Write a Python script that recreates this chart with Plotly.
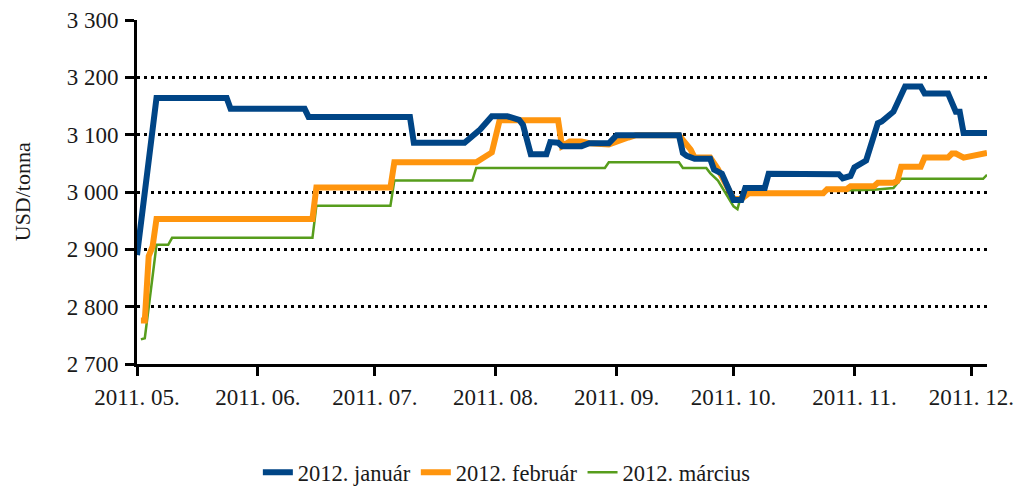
import plotly.graph_objects as go

# ---- data ----
jan_dates = ["2011-05-01", "2011-05-04", "2011-05-06", "2011-05-24", "2011-05-25", "2011-06-13", "2011-06-14",
             "2011-07-10", "2011-07-11", "2011-07-24", "2011-07-28", "2011-07-31", "2011-08-04", "2011-08-07",
             "2011-08-08", "2011-08-10", "2011-08-14", "2011-08-15", "2011-08-17", "2011-08-18", "2011-08-23",
             "2011-08-25", "2011-08-30", "2011-09-01", "2011-09-17", "2011-09-18", "2011-09-19", "2011-09-21",
             "2011-09-25", "2011-09-26", "2011-09-28", "2011-10-01", "2011-10-03", "2011-10-04", "2011-10-09",
             "2011-10-10", "2011-10-28", "2011-10-29", "2011-10-31", "2011-11-01", "2011-11-04", "2011-11-07",
             "2011-11-08", "2011-11-11", "2011-11-14", "2011-11-18", "2011-11-19", "2011-11-25", "2011-11-27",
             "2011-11-28", "2011-11-29", "2011-12-05"]
jan_values = [2890, 3053, 3164, 3164, 3145, 3145, 3131,
              3131, 3086, 3086, 3109, 3132, 3132, 3126,
              3117, 3066, 3066, 3087, 3086, 3080, 3080,
              3085, 3085, 3099, 3099, 3068, 3063, 3058,
              3058, 3039, 3032, 2986, 2986, 3007, 3007,
              3032, 3031, 3024, 3028, 3043, 3055, 3120,
              3123, 3140, 3184, 3184, 3172, 3172, 3140,
              3140, 3103, 3103]

feb_dates = ["2011-05-02", "2011-05-03", "2011-05-04", "2011-05-05", "2011-05-06", "2011-06-15", "2011-06-16",
             "2011-07-05", "2011-07-06", "2011-07-27", "2011-07-31", "2011-08-02", "2011-08-17", "2011-08-18",
             "2011-08-20", "2011-08-23", "2011-08-25", "2011-08-30", "2011-09-04", "2011-09-06", "2011-09-17",
             "2011-09-19", "2011-09-20", "2011-09-21", "2011-09-25", "2011-09-27", "2011-10-01", "2011-10-03",
             "2011-10-05", "2011-10-24", "2011-10-25", "2011-10-30", "2011-10-31", "2011-11-06", "2011-11-07",
             "2011-11-11", "2011-11-12", "2011-11-13", "2011-11-18", "2011-11-19", "2011-11-25", "2011-11-26",
             "2011-11-27", "2011-11-29", "2011-12-02", "2011-12-04", "2011-12-05"]
feb_values = [2776, 2776, 2888, 2905, 2953, 2953, 3008,
              3008, 3052, 3052, 3069, 3125, 3125, 3080,
              3088, 3088, 3085, 3083, 3095, 3099, 3099,
              3082, 3074, 3060, 3060, 3040, 2988, 2988,
              2998, 2998, 3005, 3005, 3010, 3010, 3016,
              3016, 3019, 3044, 3044, 3060, 3060, 3067,
              3067, 3060, 3064, 3065, 3068]

mar_dates = ["2011-05-02", "2011-05-03", "2011-05-05", "2011-05-06", "2011-05-09", "2011-05-10", "2011-06-15",
             "2011-06-16", "2011-07-05", "2011-07-06", "2011-07-26", "2011-07-27", "2011-08-29", "2011-08-30",
             "2011-09-17", "2011-09-18", "2011-09-24", "2011-09-25", "2011-09-27", "2011-10-01", "2011-10-02",
             "2011-10-03", "2011-10-05", "2011-10-24", "2011-10-25", "2011-11-06", "2011-11-11", "2011-11-13",
             "2011-12-04", "2011-12-05"]
mar_values = [2743, 2745, 2853, 2908, 2908, 2920, 2920,
              2976, 2976, 3020, 3020, 3042, 3042, 3052,
              3052, 3042, 3042, 3033, 3020, 2975, 2970,
              2995, 2998, 2998, 3002, 3004, 3007, 3023,
              3023, 3030]

series_names = ["2012. január", "2012. február", "2012. március"]
y_title = "USD/tonna"

FONT = "Liberation Serif"
TXT = "#1a1a1a"

fig = go.Figure()
# drawn green -> orange -> blue so blue is on top; legend reversed
fig.add_trace(go.Scatter(x=mar_dates, y=mar_values, mode="lines", name=series_names[2],
                         line=dict(color="#579d1c", width=2.5)))
fig.add_trace(go.Scatter(x=feb_dates, y=feb_values, mode="lines", name=series_names[1],
                         line=dict(color="#ff950e", width=6)))
fig.add_trace(go.Scatter(x=jan_dates, y=jan_values, mode="lines", name=series_names[0],
                         line=dict(color="#004586", width=6)))

# page body has an 8px margin; the figure is sized/placed to compensate
fig.update_layout(
    width=1016, height=479,
    margin=dict(l=129, r=37, t=12, b=123, autoexpand=False),
    paper_bgcolor="white", plot_bgcolor="white",
    font=dict(family=FONT, size=22, color=TXT),
    separators=", ",
    showlegend=True,
    legend=dict(orientation="h", xref="container", yref="container",
                x=0.491, xanchor="center", y=0.03, yanchor="middle",
                traceorder="reversed", itemwidth=30,
                font=dict(size=22.5, family=FONT, color=TXT)),
    annotations=[dict(text=y_title, xref="paper", yref="paper", x=-0.135, y=0.5,
                      textangle=-90, showarrow=False, font=dict(size=22, family=FONT, color=TXT),
                      xanchor="center", yanchor="middle")],
)

fig.update_xaxes(
    type="date", range=["2011-05-01", "2011-12-05"],
    tick0="2011-05-01", dtick="M1", tickformat="%Y. %m.",
    tickfont=dict(size=23, family=FONT, color=TXT),
    showline=True, linecolor="black", linewidth=3,
    ticks="outside", ticklen=9, tickwidth=3, tickcolor="black",
    ticklabelstandoff=1,
    showgrid=False, zeroline=False,
)
fig.update_yaxes(
    range=[2700, 3300], dtick=100, tickformat=",d",
    tickfont=dict(size=23, family=FONT, color=TXT),
    showline=True, linecolor="black", linewidth=3,
    ticks="outside", ticklen=9, tickwidth=3, tickcolor="black",
    ticklabelstandoff=2,
    showgrid=True, gridcolor="black", gridwidth=2.5, griddash="3px,4px",
    zeroline=False,
)

fig.write_html("out.html")
